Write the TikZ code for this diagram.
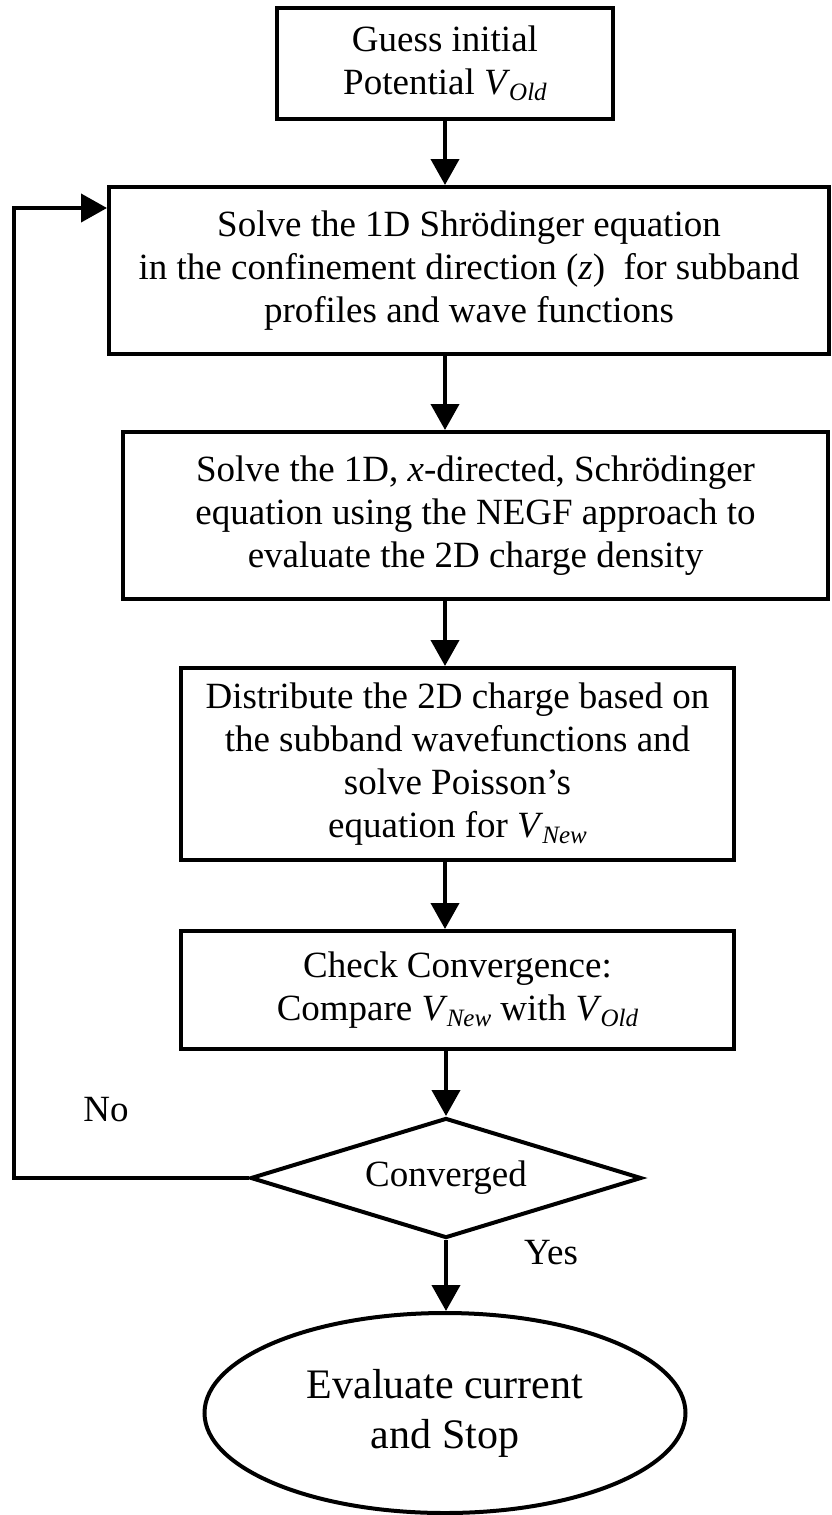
\documentclass[tikz,border=0pt]{standalone}
\usepackage{fontspec}
\setmainfont{Liberation Serif}
\usetikzlibrary{arrows.meta,shapes.geometric}
\newcommand{\vsub}[1]{\textit{V}\kern-1pt\raisebox{-6pt}{\fontsize{25}{25}\selectfont\textit{#1}}}
\begin{document}
\begin{tikzpicture}[x=1pt,y=-1pt,
  box/.style={draw,line width=4pt,inner sep=0pt,align=center,font=\fontsize{37}{43}\selectfont},
  conn/.style={line width=4pt,-{Triangle[length=26pt,width=28pt]}},
  lbl/.style={font=\fontsize{37}{43}\selectfont,inner sep=0pt}]
\useasboundingbox (0,0) rectangle (831,1515);
\node[box,minimum width=336pt,minimum height=111pt] (b1) at (445,63.5)
  {Guess initial\\Potential \vsub{Old}};
\node[box,minimum width=720pt,minimum height=167pt] (b2) at (469,270.5)
  {Solve the 1D Shrödinger equation\\in the confinement direction (\textit{z})\ \ for subband\\profiles and wave functions};
\node[box,minimum width=705pt,minimum height=167pt] (b3) at (475.5,515.5)
  {Solve the 1D, \textit{x}-directed, Schrödinger\\equation using the NEGF approach to\\evaluate the 2D charge density};
\node[box,minimum width=553pt,minimum height=192pt] (b4) at (457.5,764)
  {Distribute the 2D charge based on\\the subband wavefunctions and\\solve Poisson’s\\equation for \vsub{New}};
\node[box,minimum width=553pt,minimum height=118pt] (b5) at (457.5,990)
  {Check Convergence:\\Compare \vsub{New} with \vsub{Old}};
\node[draw,diamond,aspect=3.25,line width=4pt,minimum width=391pt,minimum height=120pt,inner sep=0pt,font=\fontsize{37}{43}\selectfont] (dia) at (446,1178) {Converged};
\node[draw,ellipse,line width=4pt,minimum width=481pt,minimum height=200pt,inner sep=0pt,align=center,font=\fontsize{42}{50}\selectfont] (ell) at (445,1413) {Evaluate current\\and Stop};
\coordinate (lp) at (14,208);
\node[lbl] (no) at (106,1110) {No};
\node[lbl] (yes) at (551,1253) {Yes};
\draw[conn] (b1.south) -- (b1.south |- b2.north);
\draw[conn] (b2.south -| b1.south) -- (b3.north -| b1.south);
\draw[conn] (b3.south -| b1.south) -- (b4.north -| b1.south);
\draw[conn] (b4.south -| b1.south) -- (b5.north -| b1.south);
\draw[conn] (b5.south -| dia.north) -- (dia.north);
\draw[conn] (dia.south) -- (dia.south |- ell.north);
\draw[conn] (dia.west) -| (lp) -- (lp -| b2.west);
\end{tikzpicture}
\end{document}
